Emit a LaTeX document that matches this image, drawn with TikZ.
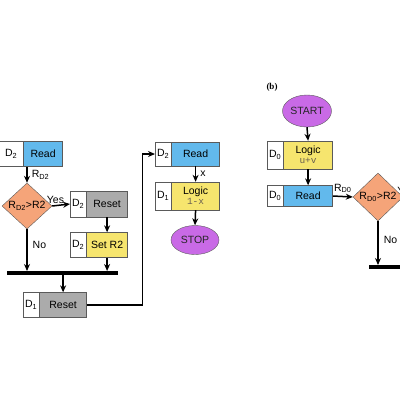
\documentclass[tikz,border=0pt]{standalone}
\usepackage{fontspec}
\setmainfont{Liberation Sans}
\setmonofont{Liberation Mono}
\newfontfamily\partfont{Liberation Serif}
\usetikzlibrary{positioning, arrows.meta, shapes.geometric}
\definecolor{readblue}{HTML}{62B9EC}
\definecolor{resetgray}{HTML}{ABABAB}
\definecolor{logicyellow}{HTML}{F6E56E}
\definecolor{testorange}{HTML}{F5A479}
\definecolor{endpurple}{HTML}{C96AE6}
\definecolor{edgegray}{HTML}{5A5A5A}
\definecolor{codegray}{HTML}{6A6050}
\newcommand{\codetext}[1]{{\fontsize{9.5}{10}\ttfamily\color{codegray}#1}}

\begin{document}
\begin{tikzpicture}[
    x=1pt, y=-1pt,
    font=\fontsize{10.5}{11}\selectfont,
    tag/.style={draw=edgegray, fill=white, minimum width=16pt, minimum height=25pt, inner sep=0pt, anchor=west},
    cell/.style={draw=edgegray, minimum height=25pt, inner sep=0pt},
    cond/.style={diamond, draw=edgegray, fill=testorange, minimum width=50pt, minimum height=46pt, inner sep=0pt},
    term/.style={ellipse, draw=edgegray, fill=endpurple, minimum width=48pt, minimum height=30pt, inner sep=0pt, text=black!85},
    bar/.style={line width=4pt},
    arr/.style={-{Stealth[length=7pt, width=6pt]}, line width=1.5pt},
    lbl/.style={inner sep=0pt}
]
    \useasboundingbox (0,0) rectangle (400,400);
    \clip (0,0) rectangle (400,400);

    % left branch
    \node[tag, minimum width=24pt] (tagA) at (-1,154) {D\textsubscript{2}};
    \node[cell, fill=readblue, minimum width=39pt, right=0pt of tagA] (readA) {Read};
    \node[cond, label={center:R\textsubscript{D2}>R2}] (testA) at (27,206) {};
    \node[tag, minimum height=26pt] (tagB) at (70,204) {D\textsubscript{2}};
    \node[cell, fill=resetgray, minimum width=41pt, minimum height=26pt, right=0pt of tagB] (resetA) {Reset};
    \node[tag] (tagC) at (70,245) {D\textsubscript{2}};
    \node[cell, fill=logicyellow, minimum width=41pt, right=0pt of tagC] (setA) {Set R2};
    \coordinate (barAw) at (7,273);
    \coordinate (barAe) at (118,273);
    \node[tag] (tagD) at (23,305) {D\textsubscript{1}};
    \node[cell, fill=resetgray, minimum width=47pt, right=0pt of tagD] (resetB) {Reset};

    \draw[arr] (testA.north |- readA.south) -- (testA.north)
        node[midway, right, lbl, xshift=4pt] {R\textsubscript{D2}};
    \draw[arr] (testA.east) -- (tagB.west)
        node[pos=0, anchor=south west, lbl, xshift=-6pt, yshift=2pt] {Yes};
    \draw[arr] (resetA.south) -- (setA.north);
    \draw[bar] (barAw) -- (barAe);
    \draw[arr, shorten >=2pt] (testA.south) -- (testA.south |- barAw)
        node[pos=0.35, right, lbl, xshift=5pt] {No};
    \draw[arr, shorten >=2pt] (setA.south) -- (setA.south |- barAw);
    \draw[arr, shorten <=2pt] (resetB.north |- barAw) -- (resetB.north);

    % middle branch
    \node[tag, minimum height=24pt] (tagE) at (155,154) {D\textsubscript{2}};
    \node[cell, fill=readblue, minimum width=48pt, minimum height=24pt, right=0pt of tagE] (readB) {Read};
    \node[tag, minimum height=28pt] (tagF) at (155,196) {D\textsubscript{1}};
    \node[cell, fill=logicyellow, minimum width=48pt, minimum height=28pt, align=center, right=0pt of tagF] (logicA)
        {Logic\\[-1pt]\codetext{1-x}};
    \node[term, minimum height=29pt] (stop) at (195,240) {STOP};

    \draw[arr, line width=1.2pt] (resetB.east) -- ++(56,0) |- (tagE.west);
    \draw[arr] (readB.south) -- (logicA.north)
        node[midway, right, lbl, xshift=4pt] {x};
    \draw[arr] (logicA.south) -- (stop.north);

    % right branch
    \node[lbl, font=\fontsize{9}{10}\partfont\bfseries] (part) at (272,87) {(b)};
    \node[term, minimum width=49pt, minimum height=32pt] (start) at (307,111) {START};
    \node[tag, minimum height=28pt] (tagG) at (267,155) {D\textsubscript{0}};
    \node[cell, fill=logicyellow, minimum width=49pt, minimum height=28pt, align=center, right=0pt of tagG] (logicB)
        {Logic\\[-1pt]\codetext{u+v}};
    \node[tag, minimum height=21pt] (tagH) at (267,196) {D\textsubscript{0}};
    \node[cell, fill=readblue, minimum width=49pt, minimum height=21pt, right=0pt of tagH] (readC) {Read};
    \node[cond, minimum height=48pt, label={center:R\textsubscript{D0}>R2}] (testB) at (378,197) {};
    \coordinate (barBw) at (369,267);
    \coordinate (barBe) at (410,267);

    \draw[arr] (start.south) -- (logicB.north);
    \draw[arr] (logicB.south) -- (readC.north);
    \draw[arr] (readC.east) -- (testB.west)
        node[midway, above, lbl, yshift=3pt] {R\textsubscript{D0}};
    \node[lbl, anchor=south west, xshift=-6pt, yshift=2pt] (yesB) at (testB.east) {Yes};
    \draw[bar] (barBw) -- (barBe);
    \draw[arr, shorten >=2pt] (testB.south) -- (testB.south |- barBw)
        node[pos=0.4, right, lbl, xshift=5pt] {No};
\end{tikzpicture}
\end{document}
